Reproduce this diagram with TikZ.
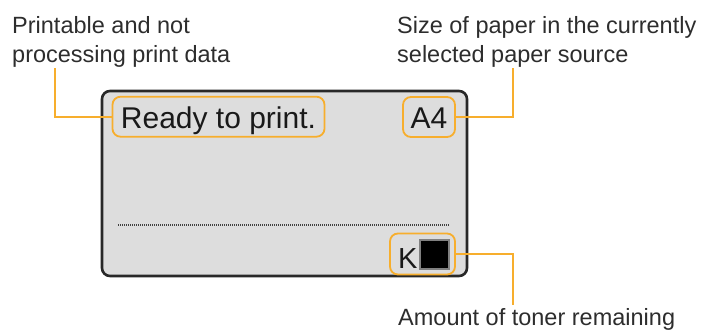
\documentclass[tikz,border=0pt]{standalone}
\usepackage{fontspec}
\setmainfont{Liberation Sans}
\definecolor{hl}{RGB}{247,174,45}
\definecolor{lbl}{RGB}{45,45,45}
\definecolor{scr}{RGB}{221,221,221}
\definecolor{frame}{RGB}{40,40,40}
\begin{document}
\begin{tikzpicture}[x=1pt,y=-1pt,
  hlbox/.style={draw=hl,line width=1.8pt,rounded corners=8pt,inner sep=0pt},
  leader/.style={draw=hl,line width=1.8pt},
  lbltext/.style={text=lbl,font=\fontsize{23.5}{29}\selectfont,inner sep=0pt,align=left},
  disp/.style={text=black!90,font=\fontsize{30}{30}\selectfont}
]
\useasboundingbox (0,0) rectangle (704,331);
\node[draw=frame, fill=scr, line width=2.6pt, rounded corners=8pt,
      minimum width=365pt, minimum height=185pt, inner sep=0pt] (screen) at (284.5,183.5) {};
\draw[gray!50!black, line width=1.2pt, dash pattern=on 1pt off 1pt] (118,225) -- (450,225);

\node[hlbox, disp, minimum width=212pt, minimum height=40pt, text height=23pt, text depth=0pt] (ready) at (218.5,116.7) {Ready to print.};
\node[hlbox, disp, minimum width=52pt, minimum height=40pt, text height=23pt, text depth=0pt] (a4) at (429,117) {A4};
\node[hlbox, minimum width=65pt, minimum height=41pt] (kbox) at (422.5,254) {};
\node[disp, font=\fontsize{29}{29}\selectfont, inner sep=0pt, anchor=base west] (ktext) at (398,268) {K};
\node[fill=black, draw=gray, line width=2pt, minimum size=29pt, inner sep=0pt] (toner) at (434.5,254) {};

\node[lbltext, anchor=north west] (lab1) at (12,16) {Printable and not\\processing print data};
\node[lbltext, anchor=north west] (lab2) at (397,16) {Size of paper in the currently\\selected paper source};
\node[lbltext, anchor=base west] (lab3) at (398,325) {Amount of toner remaining};

\coordinate (c1) at (55,68);
\coordinate (c2) at (513,68);
\coordinate (c3) at (513,305);
\draw[leader] (ready.west) -| (c1);
\draw[leader] (a4.east) -| (c2);
\draw[leader] (kbox.east) -| (c3);
\end{tikzpicture}
\end{document}
